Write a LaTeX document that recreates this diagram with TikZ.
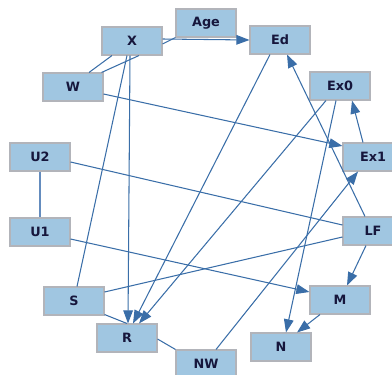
\documentclass[tikz,border=0pt]{standalone}
\usepackage{fontspec}
\setmainfont{DejaVu Sans}
\usetikzlibrary{arrows.meta,calc}
\definecolor{boxfill}{RGB}{160,198,225}
\definecolor{boxline}{RGB}{178,180,186}
\definecolor{edgecol}{RGB}{58,110,168}
\definecolor{lightedge}{RGB}{100,140,190}
\definecolor{txtcol}{RGB}{22,22,60}
\tikzset{
  var/.style={rectangle, fill=boxfill, draw=boxline, line width=0.6pt,
    minimum width=1.2cm, minimum height=0.56cm, inner sep=0pt,
    text=txtcol, font=\fontsize{7.3}{8}\selectfont\bfseries},
  link/.style={draw=edgecol, line width=0.6pt},
  arr/.style={link, -{Triangle[length=7.5pt,width=5.5pt]}, color=edgecol}
}
\begin{document}
\begin{tikzpicture}[x=0.02cm,y=-0.02cm]
\useasboundingbox (0,0) rectangle (392,375);
\node[var] (X) at (132,41) {X};
\node[var] (Age) at (206,23) {Age};
\node[var] (Ed) at (280,40) {Ed};
\node[var] (W) at (73,87) {W};
\node[var] (Ex0) at (340,86) {Ex0};
\node[var] (U2) at (40,157) {U2};
\node[var] (Ex1) at (373,157) {Ex1};
\node[var] (LF) at (373,231) {LF};
\node[var] (U1) at (40,232) {U1};
\node[var] (S) at (74,301) {S};
\node[var] (R) at (127,338) {R};
\node[var] (NW) at (206,364) {NW};
\node[var] (M) at (340,300) {M};
\node[var] (N) at (281,347) {N};
% connectors
\draw[link] ($(X.east)+(0,3)$) -- (Age.south west);
\draw[arr] ($(X.east)+(0,-2)$) -- (Ed.west);
\draw[link] ($(X.south)+(-20,0)$) -- ($(W.north)+(16,0)$);
\draw[link] ($(X.south)+(7,0)$) -- ($(W.north east)+(-2,0)$);
\draw[arr] ($(X.south)+(-2,0)$) -- ($(R.north)+(1,0)$);
\draw[link] ($(X.south)+(-5,0)$) -- ($(S.north)+(3,0)$);
\draw[arr] ($(W.east)+(0,7)$) -- ($(Ex1.west)+(0,-11)$);
\draw[arr] ($(Ed.south)+(-10,0)$) -- ($(R.north)+(6,0)$);
\draw[arr] ($(Ex0.south)+(-14,0)$) -- ($(R.north)+(12,0)$);
\draw[arr] ($(Ex0.south)+(-4,0)$) -- ($(N.north)+(5,0)$);
\draw[arr] ($(Ex1.north)+(-10,0)$) -- ($(Ex0.south)+(12,0)$);
\draw[arr] ($(LF.north)+(-8,0)$) -- ($(Ed.south)+(7,0)$);
\draw[link, draw=lightedge] (U2.south) -- (U1.north);
\draw[link] ($(U2.east)+(0,5)$) -- ($(LF.west)+(0,-6)$);
\draw[arr] ($(U1.east)+(0,7)$) -- ($(M.west)+(0,-8)$);
\draw[link] ($(S.east)+(0,-9)$) -- ($(LF.west)+(0,6)$);
\draw[link] ($(S.south east)+(0,-1)$) -- (R.north);
\draw[link] ($(R.east)+(0,1)$) -- (NW.north west);
\draw[arr] ($(NW.north)+(10,0)$) -- ($(Ex1.south)+(-15,0)$);
\draw[arr] ($(LF.south)+(-7,0)$) -- ($(M.north)+(7,0)$);
\draw[arr] ($(M.south)+(-20,0)$) -- ($(N.north)+(16,0)$);
\end{tikzpicture}
\end{document}
